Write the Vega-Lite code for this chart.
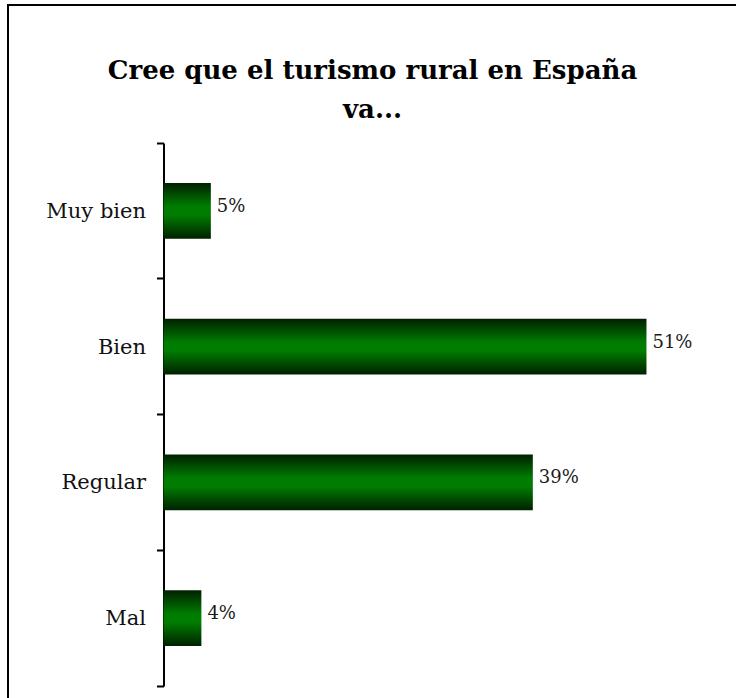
{
  "$schema": "https://vega.github.io/schema/vega-lite/v6.json",
  "width": 729,
  "height": 694,
  "autosize": {"type": "none"},
  "padding": {"left": 8, "top": 5, "right": 0, "bottom": 0},
  "background": "white",
  "config": {
    "view": {"stroke": "#000000", "strokeWidth": 2}
  },
  "title": {
    "text": ["Cree que el turismo rural en España", "va..."],
    "font": "DejaVu Serif",
    "fontSize": 26,
    "fontWeight": "bold",
    "color": "#000000",
    "lineHeight": 39,
    "anchor": "middle",
    "baseline": "alphabetic",
    "orient": "top",
    "offset": -150
  },
  "data": {
    "values": [
      {"categoria": "Muy bien", "valor": 5, "etiqueta": "5%"},
      {"categoria": "Bien", "valor": 51, "etiqueta": "51%"},
      {"categoria": "Regular", "valor": 39, "etiqueta": "39%"},
      {"categoria": "Mal", "valor": 4, "etiqueta": "4%"}
    ]
  },
  "encoding": {
    "y": {
      "field": "categoria",
      "type": "nominal",
      "sort": null,
      "scale": {"range": [138, 681], "paddingInner": 0, "paddingOuter": 0},
      "axis": {
        "title": null,
        "offset": -155.5,
        "domainColor": "#000000",
        "domainWidth": 2,
        "tickColor": "#000000",
        "tickWidth": 2,
        "tickSize": 7,
        "bandPosition": 1,
        "tickExtra": true,
        "labelFont": "DejaVu Serif",
        "labelFontSize": 21,
        "labelColor": "#111111",
        "labelPadding": 11,
        "labelOffset": 1,
        "grid": false
      }
    },
    "x": {
      "field": "valor",
      "type": "quantitative",
      "scale": {"domain": [0, 60], "range": [155.5, 723.7]},
      "axis": null
    }
  },
  "layer": [
    {
      "mark": {
        "type": "bar",
        "height": {"band": 0.41},
        "fill": {
          "gradient": "linear",
          "x1": 0, "y1": 0, "x2": 0, "y2": 1,
          "stops": [
            {"offset": 0, "color": "#002000"},
            {"offset": 0.42, "color": "#007c00"},
            {"offset": 0.58, "color": "#007c00"},
            {"offset": 1, "color": "#002000"}
          ]
        }
      }
    },
    {
      "mark": {
        "type": "text",
        "align": "left",
        "baseline": "middle",
        "dx": 6,
        "dy": -4,
        "font": "DejaVu Serif",
        "fontSize": 18,
        "color": "#1a1a1a"
      },
      "encoding": {"text": {"field": "etiqueta"}}
    }
  ]
}
